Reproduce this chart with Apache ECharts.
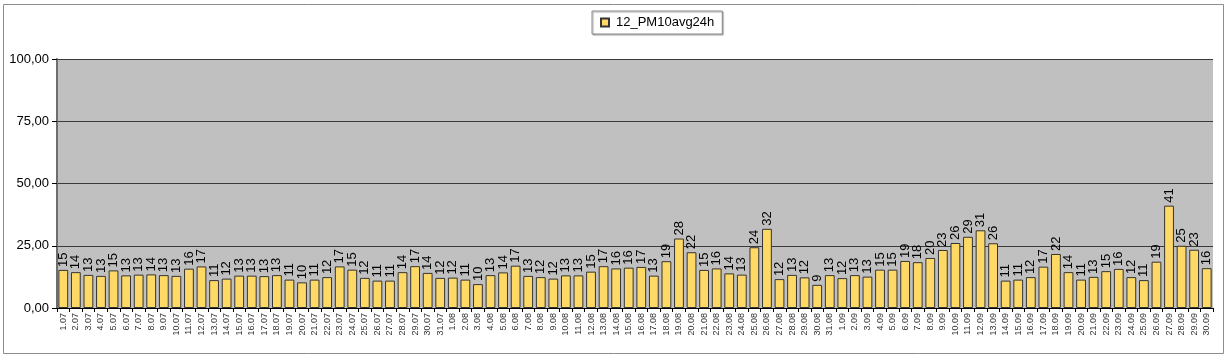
<!DOCTYPE html>
<html>
<head>
<meta charset="utf-8">
<script src="https://cdn.jsdelivr.net/npm/echarts@6/dist/echarts.min.js"></script>
<style>
html,body{margin:0;padding:0;background:#fff;}
#c{width:1232px;height:358px;}
</style>
</head>
<body>
<div id="c"></div>
<script>
const seriesName = '12_PM10avg24h';
const julyValues = [15.3,14.4,13.3,12.9,15.1,13.1,13.4,13.5,13.2,12.9,15.8,16.7,11.2,11.8,13.0,13.0,12.8,13.2,11.4,10.3,11.4,12.4,16.7,15.4,12.1,11.0,11.0,14.4,16.8,14.1,12.1];
const augustValues = [12.2,11.4,9.6,13.2,14.3,17.0,12.9,12.4,11.8,13.1,13.1,14.6,16.8,15.9,16.2,16.5,13.0,18.8,27.9,22.4,15.3,15.9,13.9,13.4,24.4,31.8,11.6,13.3,12.3,9.3,13.2];
const septemberValues = [12.0,13.2,12.6,15.4,15.4,18.9,18.4,20.1,23.3,26.1,28.6,31.2,26.0,11.0,11.4,12.4,16.6,21.7,14.4,11.4,12.5,14.8,15.7,12.4,11.2,18.6,41.1,25.0,23.4,16.0];
const monthSuffixes = ['07','08','09'];
const monthLengths = [31,31,30];
const yTicks = [0,25,50,75,100];

const categories = [];
monthLengths.forEach((n,mi)=>{ for(let d=1; d<=n; d++) categories.push(d+'.'+monthSuffixes[mi]); });
const values = julyValues.concat(augustValues, septemberValues);

const chart = echarts.init(document.getElementById('c'), null, {renderer:'canvas'});
chart.setOption({
  animation:false,
  backgroundColor:'#ffffff',
  textStyle:{fontFamily:'Liberation Sans, Arial, sans-serif'},
  graphic:[{
    type:'rect', left:3, top:4, z:-10, silent:true,
    shape:{width:1220, height:349},
    style:{fill:'#ffffff', stroke:'#8c8c8c', lineWidth:1}
  }],
  legend:{
    data:[seriesName],
    left:592, top:11,
    padding:[5,8,5,8],
    backgroundColor:'#ffffff',
    borderColor:'#8c8c8c', borderWidth:1,
    shadowColor:'rgba(0,0,0,0.35)', shadowOffsetX:1, shadowOffsetY:1, shadowBlur:1,
    itemWidth:8, itemHeight:8, itemGap:4,
    icon:'rect',
    textStyle:{fontSize:13, color:'#000', fontFamily:'Liberation Sans, Arial, sans-serif', padding:[0,0,0,2]}
  },
  grid:{left:57, right:19, top:59, bottom:50, show:true, backgroundColor:'#c0c0c0', borderWidth:0},
  xAxis:{
    type:'category', data:categories,
    axisLine:{show:true, lineStyle:{color:'#000', width:1}},
    axisTick:{show:true, length:4, lineStyle:{color:'#000'}, alignWithLabel:false},
    axisLabel:{rotate:90, fontSize:9, color:'#333', margin:5, interval:0, fontFamily:'Liberation Sans, Arial, sans-serif'},
    splitLine:{show:false}
  },
  yAxis:{
    type:'value', min:0, max:100, interval:25,
    axisLine:{show:true, lineStyle:{color:'#6e6e6e', width:2}},
    axisTick:{show:true, length:5, lineStyle:{color:'#000'}},
    axisLabel:{fontSize:13, color:'#000', margin:8,
      formatter:v=> yTicks.includes(v) ? v.toFixed(2).replace('.',',') : ''},
    splitLine:{show:true, lineStyle:{color:'#3a3a3a', width:1}}
  },
  series:[{
    name:seriesName, type:'bar', data:values,
    barCategoryGap:'22%',
    itemStyle:{color:'#ffd966', borderColor:'#333', borderWidth:1},
    label:{show:true, position:'top', rotate:90, align:'left', verticalAlign:'middle', distance:3,
      fontSize:13, color:'#000', fontFamily:'Liberation Sans, Arial, sans-serif',
      formatter:p=>Math.round(p.value)}
  }]
});
</script>
</body>
</html>
